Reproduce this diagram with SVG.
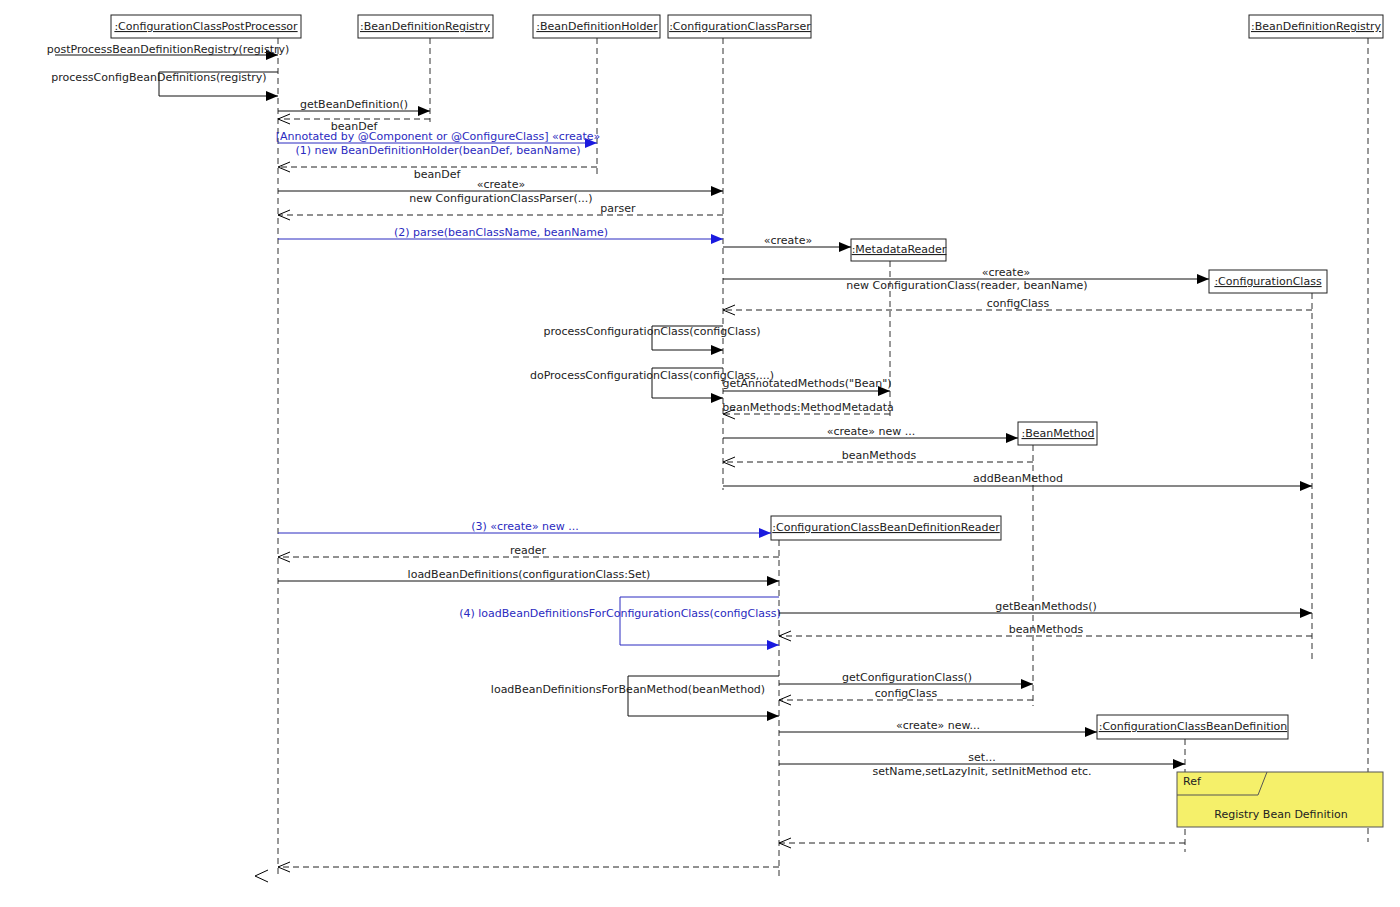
<svg xmlns="http://www.w3.org/2000/svg" width="1400" height="907" viewBox="0 0 1400 907">
<defs>
<marker id="f" markerWidth="12" markerHeight="10" refX="12" refY="5" orient="auto" markerUnits="userSpaceOnUse"><path d="M0,0 L12,5 L0,10 Z" fill="#000"/></marker>
<marker id="fb" markerWidth="12" markerHeight="10" refX="12" refY="5" orient="auto" markerUnits="userSpaceOnUse"><path d="M0,0 L12,5 L0,10 Z" fill="#1a1adf"/></marker>
<marker id="o" markerWidth="14" markerHeight="12" refX="13" refY="6" orient="auto" markerUnits="userSpaceOnUse"><path d="M1,1 L13,6 L1,11" fill="none" stroke="#000"/></marker>
</defs>
<style>
text{font-family:"DejaVu Sans",sans-serif;font-size:11px;fill:#222}
.m{text-anchor:middle}
.e{text-anchor:end}
.u{text-decoration:underline}
.b{fill:#2a2ac0}
.box{fill:#fff;stroke:#222;stroke-width:1}
.ll{stroke:#333;stroke-dasharray:6,4;fill:none}
.s{stroke:#111;fill:none;marker-end:url(#f)}
.sb{stroke:#2a2ac0;fill:none;marker-end:url(#fb)}
.r{stroke:#222;stroke-dasharray:6,4;fill:none;marker-end:url(#o)}
</style>
<rect width="1400" height="907" fill="#fff"/>
<g id="n1"><line class="ll" x1="278" y1="38" x2="278" y2="876"/><rect class="box" x="111" y="15" width="190" height="23"/><text class="m u" x="206" y="30">:ConfigurationClassPostProcessor</text></g>
<g id="n2"><line class="ll" x1="430" y1="38" x2="430" y2="122"/><rect class="box" x="358" y="15" width="135" height="23"/><text class="m u" x="425" y="30">:BeanDefinitionRegistry</text></g>
<g id="n3"><line class="ll" x1="597" y1="38" x2="597" y2="176"/><rect class="box" x="533" y="15" width="127" height="23"/><text class="m u" x="597" y="30">:BeanDefinitionHolder</text></g>
<g id="n4"><line class="ll" x1="723" y1="38" x2="723" y2="490"/><rect class="box" x="668" y="15" width="143" height="23"/><text class="m u" x="740" y="30">:ConfigurationClassParser</text></g>
<g id="n5"><line class="ll" x1="1368" y1="38" x2="1368" y2="842"/><rect class="box" x="1249" y="15" width="134" height="23"/><text class="m u" x="1316" y="30">:BeanDefinitionRegistry</text></g>
<g id="n6"><line class="ll" x1="890" y1="261" x2="890" y2="416"/><rect class="box" x="851" y="239" width="95" height="22"/><text class="m u" x="899" y="253">:MetadataReader</text></g>
<g id="n7"><line class="ll" x1="1312" y1="293" x2="1312" y2="660"/><rect class="box" x="1209" y="270" width="118" height="23"/><text class="m u" x="1268" y="285">:ConfigurationClass</text></g>
<g id="n8"><line class="ll" x1="1033" y1="445" x2="1033" y2="706"/><rect class="box" x="1018" y="422" width="79" height="23"/><text class="m u" x="1058" y="437">:BeanMethod</text></g>
<g id="n9"><line class="ll" x1="779" y1="540" x2="779" y2="876"/><rect class="box" x="771" y="516" width="230" height="24"/><text class="m u" x="886" y="531">:ConfigurationClassBeanDefinitionReader</text></g>
<g id="n10"><line class="ll" x1="1185" y1="739" x2="1185" y2="852"/><rect class="box" x="1097" y="715" width="191" height="24"/><text class="m u" x="1193" y="730">:ConfigurationClassBeanDefinition</text></g>
<g id="ref"><rect x="1177" y="772" width="206" height="55" fill="#f5f06a" stroke="#555"/><path d="M1177,795 L1258,795 L1267,772" fill="none" stroke="#555"/><text x="1183" y="785">Ref</text><text class="m" x="1281" y="818">Registry Bean Definition</text></g>
<g id="connectors">
<line class="s" x1="55" y1="55" x2="278" y2="55"/><text class="m" x="168" y="53">postProcessBeanDefinitionRegistry(registry)</text>
<path class="s" d="M278,72 H159 V96 H278"/><text class="m" x="159" y="81">processConfigBeanDefinitions(registry)</text>
<line class="s" x1="278" y1="111" x2="430" y2="111"/><text class="m" x="354" y="108">getBeanDefinition()</text>
<line class="r" x1="430" y1="119" x2="278" y2="119"/><text class="m" x="354" y="130">beanDef</text>
<line class="sb" x1="278" y1="143" x2="597" y2="143"/><text class="m b" x="438" y="140">[Annotated by @Component or @ConfigureClass] «create»</text><text class="m b" x="438" y="154">(1) new BeanDefinitionHolder(beanDef, beanName)</text>
<line class="r" x1="597" y1="167" x2="278" y2="167"/><text class="m" x="437" y="178">beanDef</text>
<line class="s" x1="278" y1="191" x2="723" y2="191"/><text class="m" x="501" y="188">«create»</text><text class="m" x="501" y="202">new ConfigurationClassParser(...)</text>
<line class="r" x1="723" y1="215" x2="278" y2="215"/><text class="m" x="618" y="212">parser</text>
<line class="sb" x1="278" y1="239" x2="723" y2="239"/><text class="m b" x="501" y="236">(2) parse(beanClassName, beanName)</text>
<line class="s" x1="723" y1="247" x2="851" y2="247"/><text class="m" x="788" y="244">«create»</text>
<line class="s" x1="723" y1="279" x2="1209" y2="279"/><text class="m" x="1006" y="276">«create»</text><text class="m" x="967" y="289">new ConfigurationClass(reader, beanName)</text>
<line class="r" x1="1312" y1="310" x2="723" y2="310"/><text class="m" x="1018" y="307">configClass</text>
<path class="s" d="M723,326 H652 V350 H723"/><text class="m" x="652" y="335">processConfigurationClass(configClass)</text>
<path class="s" d="M723,368 H652 V398 H723"/><text class="m" x="652" y="379">doProcessConfigurationClass(configClass,...)</text>
<line class="s" x1="723" y1="391" x2="890" y2="391"/><text class="m" x="807" y="387">getAnnotatedMethods("Bean")</text>
<line class="r" x1="890" y1="414" x2="723" y2="414"/><text class="m" x="808" y="411">beanMethods:MethodMetadata</text>
<line class="s" x1="723" y1="438" x2="1018" y2="438"/><text class="m" x="871" y="435">«create»  new ...</text>
<line class="r" x1="1033" y1="462" x2="723" y2="462"/><text class="m" x="879" y="459">beanMethods</text>
<line class="s" x1="723" y1="486" x2="1312" y2="486"/><text class="m" x="1018" y="482">addBeanMethod</text>
<line class="sb" x1="278" y1="533" x2="771" y2="533"/><text class="m b" x="525" y="530">(3) «create»  new ...</text>
<line class="r" x1="779" y1="557" x2="278" y2="557"/><text class="m" x="528" y="554">reader</text>
<line class="s" x1="278" y1="581" x2="779" y2="581"/><text class="m" x="529" y="578">loadBeanDefinitions(configurationClass:Set)</text>
<path class="sb" d="M779,597 H620 V645 H779"/><text class="m b" x="620" y="617">(4) loadBeanDefinitionsForConfigurationClass(configClass)</text>
<line class="s" x1="779" y1="613" x2="1312" y2="613"/><text class="m" x="1046" y="610">getBeanMethods()</text>
<line class="r" x1="1312" y1="636" x2="779" y2="636"/><text class="m" x="1046" y="633">beanMethods</text>
<path class="s" d="M779,676 H628 V716 H779"/><text class="m" x="628" y="693">loadBeanDefinitionsForBeanMethod(beanMethod)</text>
<line class="s" x1="779" y1="684" x2="1033" y2="684"/><text class="m" x="907" y="681">getConfigurationClass()</text>
<line class="r" x1="1033" y1="700" x2="779" y2="700"/><text class="m" x="906" y="697">configClass</text>
<line class="s" x1="779" y1="732" x2="1097" y2="732"/><text class="m" x="938" y="729">«create» new...</text>
<line class="s" x1="779" y1="764" x2="1185" y2="764"/><text class="m" x="982" y="761">set...</text><text class="m" x="982" y="775">setName,setLazyInit, setInitMethod etc.</text>
<line class="r" x1="1185" y1="843" x2="779" y2="843"/>
<line class="r" x1="779" y1="867" x2="278" y2="867"/>
<path d="M268,870 L255,876 L268,882" fill="none" stroke="#000"/>
</g>
</svg>
